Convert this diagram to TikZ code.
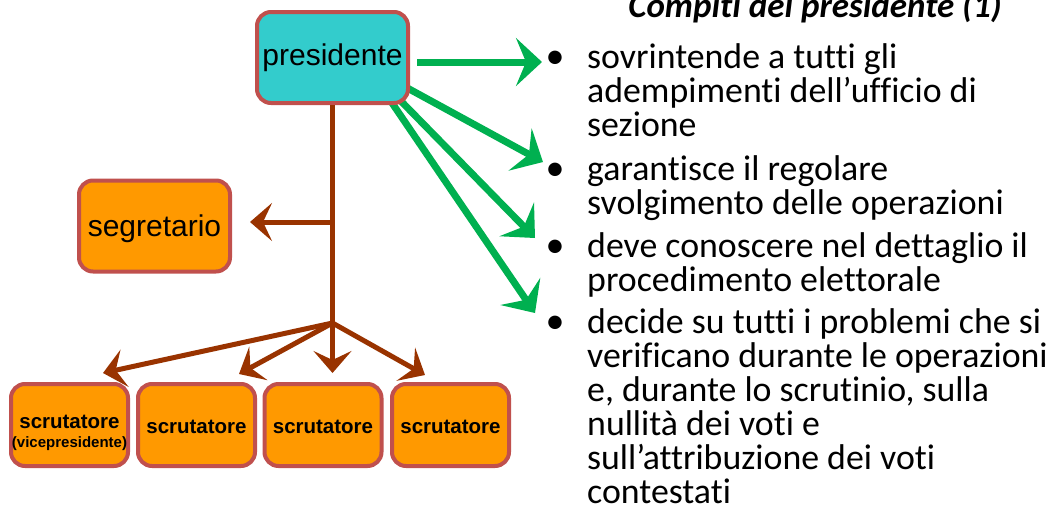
\documentclass[tikz,border=0pt]{standalone}
\usepackage{fontspec}
\setmainfont{Carlito}[Ligatures={NoCommon}]
\newfontfamily\arialfont{Liberation Sans}
\usetikzlibrary{arrows.meta}
\definecolor{boxborder}{HTML}{C0504D}
\definecolor{cyanfill}{HTML}{33CCCC}
\definecolor{orangefill}{HTML}{FF9900}
\definecolor{brownline}{HTML}{993300}
\definecolor{greenline}{HTML}{00B050}
\newcommand{\lowered}[2]{\raisebox{-#1}[0pt][0pt]{#2}}
\begin{document}
\begin{tikzpicture}[x=1pt,y=-1pt,
  box/.style={draw=boxborder, line width=4pt, rounded corners=14pt, inner sep=0pt, align=center},
  bigbox/.style={box, minimum width=151pt, minimum height=91pt, font=\arialfont\fontsize{30}{36}\selectfont},
  scrbox/.style={box, fill=orangefill, minimum width=117pt, minimum height=82pt, font=\arialfont\bfseries\fontsize{20.5}{22}\selectfont},
  brownarrow/.style={draw=brownline, line width=5pt, -{Stealth[length=22pt,width=38pt,inset=9pt]}},
  brownln/.style={draw=brownline, line width=5pt},
  greenarrow/.style={draw=greenline, line width=7pt, -{Stealth[length=26pt,width=48pt,inset=10pt]}},
  txt/.style={anchor=base west, inner sep=0pt, font=\fontsize{35.8}{34}\selectfont},
  bul/.style={anchor=base, inner sep=0pt, font=\fontsize{38}{34}\selectfont}
]
\useasboundingbox (0,0) rectangle (1050,509);

% green arrows (behind presidente box)
\coordinate (g1s) at (417,62);   \coordinate (g1t) at (542,62);
\coordinate (g2s) at (400,84);   \coordinate (g2t) at (543,162);
\coordinate (g3s) at (395,95);   \coordinate (g3t) at (535,238);
\coordinate (g4s) at (390,100);  \coordinate (g4t) at (535,313);
\draw[greenarrow] (g1s) -- (g1t);
\draw[greenarrow] (g2s) -- (g2t);
\draw[greenarrow] (g3s) -- (g3t);
\draw[greenarrow] (g4s) -- (g4t);

% nodes
\node[bigbox, fill=cyanfill] (pres) at (332.5,57.5) {\lowered{8pt}{presidente}};
\node[bigbox, fill=orangefill] (seg) at (154.5,226) {\lowered{10pt}{segretario}};
\node[scrbox] (s1) at (69.5,425) {\lowered{22pt}{\begin{tabular}[b]{@{}c@{}}scrutatore\\[-3pt]{\fontsize{15}{16}\selectfont(vicepresidente)}\end{tabular}}};
\node[scrbox] (s2) at (196.5,425) {\lowered{8pt}{scrutatore}};
\node[scrbox] (s3) at (323,425) {\lowered{8pt}{scrutatore}};
\node[scrbox] (s4) at (450.5,425) {\lowered{8pt}{scrutatore}};

% brown tree
\coordinate (sj) at (332.5,222);
\coordinate (br) at (332.5,323);
\draw[brownln] (pres.south) -- (br);
\draw[brownarrow, shorten >=18pt] (sj) -- (sj -| seg.east);
\coordinate (t1) at (103,373);
\coordinate (t2) at (239,374);
\coordinate (t3) at (332.5,373);
\coordinate (t4) at (425,375);
\draw[brownarrow] (br) -- (t1);
\draw[brownarrow] (br) -- (t2);
\draw[brownarrow] (br) -- (t3);
\draw[brownarrow] (br) -- (t4);

% title
\node[anchor=base, inner sep=0pt, font=\bfseries\itshape\fontsize{35}{36}\selectfont] (title) at (815,17) {Compiti del presidente (1)};

% bullets
\node[bul] (b1) at (555,68) {•};
\node[bul] (b2) at (555,180) {•};
\node[bul] (b3) at (555,257) {•};
\node[bul] (b4) at (555,333) {•};

% text lines
\node[txt] (l1) at (587,68) {sovrintende a tutti gli};
\node[txt] (l2) at (587,102) {adempimenti dell’ufficio di};
\node[txt] (l3) at (587,136) {sezione};
\node[txt] (l4) at (587,180) {garantisce il regolare};
\node[txt] (l5) at (587,214) {svolgimento delle operazioni};
\node[txt] (l6) at (587,257) {deve conoscere nel dettaglio il};
\node[txt] (l7) at (587,291) {procedimento elettorale};
\node[txt] (l8) at (587,333) {decide su tutti i problemi che si};
\node[txt] (l9) at (587,367) {verificano durante le operazioni};
\node[txt] (l10) at (587,401) {e, durante lo scrutinio, sulla};
\node[txt] (l11) at (587,435) {nullità dei voti e};
\node[txt] (l12) at (587,469) {sull’attribuzione dei voti};
\node[txt] (l13) at (587,503) {contestati};
\end{tikzpicture}
\end{document}
